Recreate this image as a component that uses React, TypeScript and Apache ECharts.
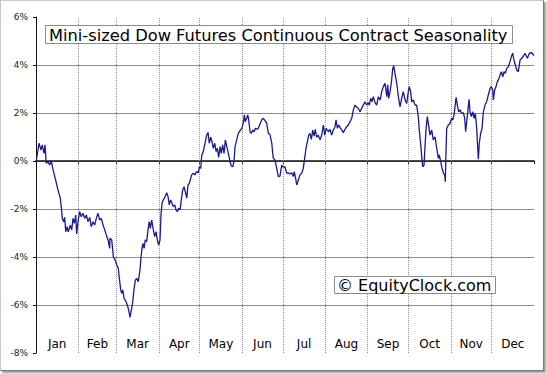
import React, { useEffect, useRef } from "react";
import * as echarts from "echarts";

// Day of year (0..365) of each traced point
const days = [
  0.2, 2.2, 3.7, 4.6, 5.9, 6.6, 7.5, 8.8, 10.0, 11.2, 12.5, 14.4, 16.1, 17.8, 18.5, 19.3, 20.3, 21.0, 21.8, 22.7,
  23.7, 25.1, 26.2, 27.1, 28.1, 29.1, 29.8, 30.8, 32.0, 33.2, 34.4, 35.7, 36.9, 38.1, 39.4, 40.5, 41.8, 43.0, 44.2, 45.4,
  46.7, 47.9, 49.1, 50.4, 51.5, 52.8, 54.0,
  54.2, 55.5, 56.7, 57.9, 59.2, 60.3, 61.1, 62.1, 62.8, 63.6, 64.5, 66.0, 66.9, 67.9, 68.9, 69.9, 70.9, 71.8, 72.8, 73.8,
  75.0, 76.2, 77.0, 77.7, 78.4, 79.2, 80.1, 81.1, 82.1, 83.0, 83.8, 84.8, 86.0, 87.0, 88.0, 88.9, 89.9, 90.9, 91.6, 92.4,
  93.3, 94.6, 95.8, 96.8, 97.7, 98.7, 99.7, 100.6, 101.7, 102.6, 103.6, 104.6, 105.6, 106.5, 107.5, 108.5, 109.4, 110.5, 111.4, 112.4,
  112.9, 114.1, 115.3, 116.5, 117.8, 119.0, 119.7, 120.7, 121.5, 122.6, 123.9, 125.1, 126.1, 127.0, 128.1, 129.0, 130.0, 131.0, 132.0, 132.9,
  133.9, 134.9, 135.8, 136.8, 137.8, 138.8, 139.8, 141.0, 142.2, 143.2, 144.2, 145.1, 145.9, 147.1, 148.3, 149.5, 150.8, 151.9, 152.7, 153.4,
  154.4, 155.2, 155.9, 156.9, 157.8, 158.8, 159.8, 160.7, 161.8, 162.9, 164.2, 165.4, 166.6, 167.9, 169.1, 170.3,
  171.5, 172.8, 173.9, 175.2, 176.4, 177.6, 178.8, 180.1, 181.3, 182.5, 183.8, 184.9, 186.2, 187.4, 188.6, 189.3, 190.3, 191.1, 192.3, 193.5,
  194.7, 195.9, 196.9, 197.9, 198.9, 199.9, 200.8, 201.8, 202.8, 203.8, 204.7, 205.7, 206.9, 208.2, 209.4, 210.6, 211.6, 212.6, 213.5, 214.5,
  215.5, 216.7, 217.9, 219.2, 219.9, 220.9, 221.9, 222.8, 224.1, 225.2, 226.5, 227.7, 228.9,
  230.2, 231.4, 232.6, 233.8, 235.1, 236.2, 237.5, 238.7, 239.9, 241.2, 242.4, 243.6, 244.3, 245.3, 246.3, 247.2, 248.5, 249.7, 250.9, 252.2,
  253.4, 254.6, 255.8, 256.5, 257.1, 257.8, 258.5, 259.5, 260.4, 261.5, 262.2, 263.1, 264.4, 265.6, 266.8, 268.0, 269.2, 270.5, 271.7, 272.9,
  273.6, 274.6, 275.3, 276.5, 277.8, 279.0, 280.2, 280.9, 282.0, 282.7, 283.4, 284.4, 285.1, 285.9, 286.8, 287.9,
  288.8, 290.0, 291.2, 292.5, 293.7, 294.9, 295.6, 296.6, 297.6, 298.6, 299.6, 300.0, 300.5, 301.0, 302.2, 303.5, 304.7, 305.4, 306.4, 307.1,
  307.9, 308.8, 309.8, 310.8, 312.0, 313.2, 314.2, 314.9, 315.7, 316.6, 317.4, 318.1, 319.1, 320.1, 321.1, 322.0, 323.0, 323.8, 324.2, 324.9,
  325.9, 326.9, 327.9, 329.1, 330.3, 331.5, 332.8, 333.7, 334.8, 335.2, 336.2, 337.2, 338.1, 339.1, 340.1, 341.1, 342.1, 343.0, 344.0, 345.0,
  346.2, 347.4, 348.4, 349.4, 350.3, 351.3, 352.3, 353.5, 354.8, 356.7, 358.4, 360.1, 361.6, 363.3, 365.0,
];

// Seasonal return (%) at each traced point
const values = [
  0, 0.74, 0.46, 0.67, 0.32, 0.67, -0.1, -0.03, -0.17, 0, -0.37, -0.8, -1.2, -1.55, -1.9, -2.4, -2.53, -2.35, -2.95, -2.74,
  -2.95, -2.67, -2.87, -2.39, -2.6, -2.25, -3.04, -2.53, -2.11, -2.32, -2.18, -2.39, -2.25, -2.53, -2.35, -2.74, -2.53, -2.67, -2.39, -2.18,
  -2.46, -2.39, -2.67, -2.87, -3.08, -3.29, -3.64,
  -3.22, -3.29, -3.99, -4.12, -4.33, -4.47, -4.89, -5.37, -5.51, -5.37, -5.72, -5.86, -6.0, -6.2, -6.52, -6.2, -5.86, -5.37, -4.96, -4.89,
  -5.03, -4.54, -3.99, -3.64, -3.43, -3.64, -3.29, -3.36, -2.87, -2.53, -2.81, -2.46, -2.87, -3.15, -2.95, -3.29, -3.5, -3.29, -2.25, -1.76,
  -1.62, -1.49, -1.32, -1.49, -1.83, -1.62, -1.76, -1.9, -1.83, -2.04, -2.11, -1.97, -2.04, -1.62, -1.21, -1.07, -1.28, -1.55, -1.0, -0.93,
  -0.93, -0.58, -0.51, -0.58, -0.44, -0.49, -0.24, -0.31, 0.25, 0.39, 0.74, 1.08, 1.19, 0.74, 0.99, 0.81, 0.53, 0.74, 0.39, 0.53,
  0.15, 0.6, 0.32, 0.67, 0.32, 0.88, 0.6, 0.32, -0.03, -0.21, -0.24, -0.03, 0.6, 0.88, 1.15, 1.26, 1.36, 1.57, 1.92, 1.64,
  1.78, 1.92, 1.71, 1.22, 1.15, 1.29, 1.22, 1.36, 1.32, 1.36, 1.54, 1.71, 1.78, 1.68, 1.57, 1.15,
  1.1, 0.74, 0.11, 0.04, -0.31, -0.65, -0.63, -0.17, -0.26, -0.24, -0.51, -0.49, -0.54, -0.49, -0.65, -0.44, -0.72, -1.0, -0.79, -0.58,
  -0.51, -0.31, 0.11, 0.53, 0.81, 1.08, 1.15, 0.9, 1.29, 1.04, 1.32, 0.99, 1.08, 0.88, 1.08, 1.5, 1.08, 1.36, 1.29, 1.22,
  1.32, 1.08, 1.29, 1.43, 1.71, 1.36, 1.5, 1.4, 1.29, 1.18, 1.32, 1.43, 1.5,
  1.64, 1.78, 2.13, 2.33, 2.24, 2.2, 2.05, 2.2, 2.33, 2.47, 2.33, 2.43, 2.33, 2.61, 2.47, 2.68, 2.43, 2.33, 2.68, 2.54,
  2.89, 3.1, 3.24, 2.96, 2.68, 3.17, 2.61, 2.89, 3.24, 3.86, 3.96, 3.65, 3.24, 2.68, 2.26, 2.61, 2.89, 2.54, 2.4, 2.89,
  3.1, 2.89, 2.47, 2.54, 2.33, 2.33, 1.85, 1.29, 0.67, 0.18, -0.24, -0.17, 0.6, 1.36, 1.85, 1.43,
  1.08, 1.29, 0.88, 1.01, 0.53, 0.11, 0.25, -0.03, -0.3, -0.5, -0.6, -0.86, 0.4, 1.36, 1.5, 1.57, 1.78, 1.71, 1.92, 2.26,
  2.65, 2.33, 2.05, 2.13, 1.99, 2.01, 1.78, 1.22, 1.64, 2.13, 2.57, 2.05, 1.85, 2.05, 1.78, 1.99, 1.36, 0.46, 0.07, 0.74,
  1.15, 1.36, 2.05, 2.33, 2.47, 2.75, 3.03, 3.1, 2.96, 2.54, 2.96, 3.1, 3.31, 3.4, 3.58, 3.72, 3.51, 3.72, 3.65, 3.86,
  3.93, 4.14, 4.35, 4.49, 4.21, 4.0, 3.79, 3.72, 4.21, 4.32, 4.49, 4.28, 4.49, 4.51, 4.39,
];

const monthNames = ["Jan", "Feb", "Mar", "Apr", "May", "Jun", "Jul", "Aug", "Sep", "Oct", "Nov", "Dec"];
const monthStarts = [0, 31, 59, 90, 120, 151, 181, 212, 243, 273, 304, 334, 365];
const titleText = "Mini-sized Dow Futures Continuous Contract Seasonality";
const watermarkText = "\u00A9 EquityClock.com";

const FONT = "DejaVu Sans";

export default function App() {
  const ref = useRef<HTMLDivElement>(null);

  useEffect(() => {
    if (!ref.current) return;
    const chart = echarts.init(ref.current, undefined, { renderer: "svg" });
    const monthMids = monthNames.map((_, i) => (monthStarts[i] + monthStarts[i + 1]) / 2);
    const innerStarts = monthStarts.slice(1, 12);
    const gridColors = ["rgba(0,0,0,0)", "#8c8c8c", "#8c8c8c", "#8c8c8c", "#8c8c8c", "#8c8c8c", "#8c8c8c", "rgba(0,0,0,0)"];

    chart.setOption({
      animation: false,
      backgroundColor: "transparent",
      title: [
        {
          text: titleText,
          left: 45,
          top: 25,
          padding: [2, 5, 1, 4],
          borderColor: "#8c8c8c",
          borderWidth: 1,
          backgroundColor: "#fff",
          textStyle: { fontFamily: FONT, fontSize: 16.25, fontWeight: "normal", color: "#000" },
        },
        {
          text: watermarkText,
          left: 334,
          top: 276,
          padding: [1, 4, 1, 3],
          borderColor: "#8c8c8c",
          borderWidth: 1,
          backgroundColor: "#fff",
          textStyle: { fontFamily: FONT, fontSize: 16, fontWeight: "normal", color: "#000" },
        },
      ],
      grid: { left: 36, right: 13, top: 17, bottom: 21, containLabel: false },
      xAxis: [
        {
          type: "value",
          min: 0,
          max: 365,
          axisLine: { show: true, onZero: true, lineStyle: { color: "#111", width: 1.5 } },
          axisTick: { show: true, length: 3, customValues: monthStarts, lineStyle: { color: "#111" } },
          axisLabel: { show: false },
          splitLine: { show: false },
        },
        {
          type: "value",
          min: 0,
          max: 365,
          position: "bottom",
          axisLine: { show: false, onZero: false },
          axisTick: { show: false },
          splitLine: { show: false },
          axisLabel: {
            show: true,
            inside: true,
            margin: 3,
            customValues: monthMids,
            fontFamily: FONT,
            fontSize: 12,
            color: "#000",
            formatter: (v: number) => {
              const i = monthMids.findIndex((m) => Math.abs(m - v) < 1);
              return i >= 0 ? monthNames[i] : "";
            },
          },
        },
      ],
      yAxis: {
        type: "value",
        min: -8,
        max: 6,
        interval: 2,
        axisLine: { show: true, onZero: false, lineStyle: { color: "#111", width: 1 } },
        axisTick: { show: true, length: 3, lineStyle: { color: "#111" } },
        axisLabel: {
          margin: 8,
          fontFamily: FONT,
          fontSize: 9,
          color: "#222",
          formatter: (v: number) => `${v}%`,
        },
        splitLine: { show: true, lineStyle: { color: gridColors, width: 1 } },
      },
      series: [
        {
          type: "line",
          xAxisIndex: 0,
          data: days.map((d, i) => [d, values[i]]),
          showSymbol: false,
          symbol: "none",
          lineStyle: { color: "#1a1a8e", width: 1.3 },
          z: 3,
          markLine: {
            silent: true,
            symbol: "none",
            label: { show: false },
            lineStyle: { color: "#8c8c8c", type: "dotted", width: 1 },
            data: innerStarts.map((s) => ({ xAxis: s })),
            z: 1,
          },
        },
      ],
    });
    return () => chart.dispose();
  }, []);

  return (
    <div style={{ position: "fixed", left: 0, top: 0, width: 547, height: 374, background: "#fff" }}>
      <div
        style={{
          position: "absolute",
          left: 0,
          top: 0,
          width: 542,
          height: 369,
          border: "1px solid #c8c8c8",
          borderRightColor: "#7a7a7a",
          borderBottomColor: "#7a7a7a",
          boxShadow: "2px 2px 2px #999",
        }}
      />
      <div ref={ref} style={{ position: "absolute", left: 0, top: 0, width: 547, height: 374 }} />
    </div>
  );
}
